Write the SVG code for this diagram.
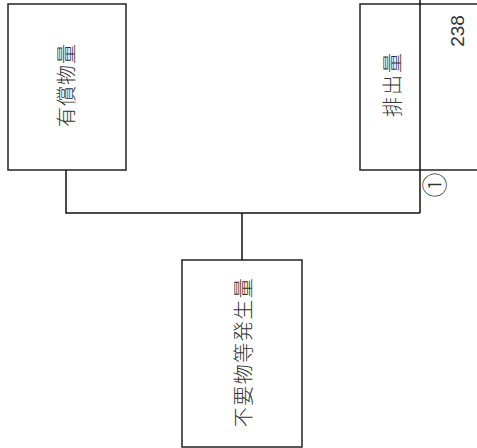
<svg xmlns="http://www.w3.org/2000/svg" width="477" height="448" viewBox="0 0 477 448">
<style>
.box{fill:#fff;stroke:#222;stroke-width:1.5}
.ln{fill:none;stroke:#111;stroke-width:1.5}
.lbl{font-family:"Noto Sans CJK JP","Noto Sans CJK SC",sans-serif;font-size:20px;font-weight:300;fill:#333;text-anchor:middle;dominant-baseline:central}
.num{font-family:"Liberation Sans",Arial,sans-serif;font-size:19px;fill:#333;text-anchor:middle;dominant-baseline:central}
</style>
<rect width="477" height="448" fill="#fff"/>
<g id="node-yushoubutsuryou">
<rect class="box" x="8" y="4" width="118" height="166"/>
<text class="lbl" transform="translate(65,85) rotate(-90)" letter-spacing="1">有償物量</text>
</g>
<g id="node-haishutsuryou">
<rect class="box" x="360" y="4" width="125" height="166"/>
<text class="lbl" transform="translate(391,84) rotate(-90)" letter-spacing="2">排出量</text>
<text class="num" transform="translate(457,31) rotate(-90)">238</text>
</g>
<g id="node-fuyoubutsu">
<rect class="box" x="182" y="260" width="120" height="187"/>
<text class="lbl" transform="translate(242,352) rotate(-90)" letter-spacing="1.5">不要物等発生量</text>
</g>
<g id="connectors">
<path class="ln" d="M66,170 V213 H420"/>
<path class="ln" d="M420,0 V213"/>
<path class="ln" d="M242,213 V260"/>
</g>
<g id="marker-1">
<text class="lbl" transform="translate(433,185) rotate(-90)" style="font-size:25px">①</text>
</g>
</svg>
